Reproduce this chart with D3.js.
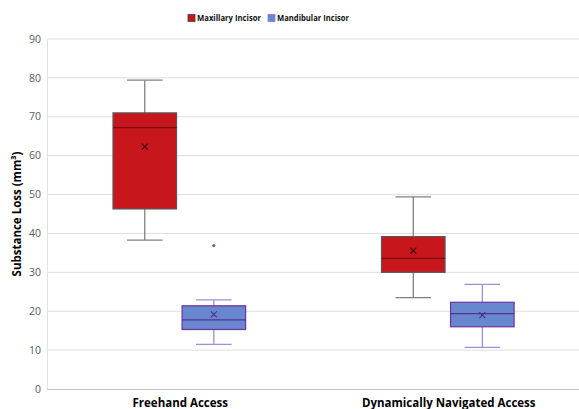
<!DOCTYPE html>
<html>
<head>
<meta charset="utf-8">
<script src="https://cdn.jsdelivr.net/npm/d3@7"></script>
<style>
  body { margin: 0; background: #fff; }
  svg { display: block; font-family: "Open Sans", "Noto Sans", sans-serif; }
</style>
</head>
<body>
<svg id="chart" width="579" height="409"></svg>
<script>
// Categories and series
var categories = ['Freehand Access', 'Dynamically Navigated Access'];
var seriesNames = ['Maxillary Incisor', 'Mandibular Incisor'];

// [min, q1, median, q3, max, mean] per category
var maxillary = [
  [38.3, 46.3, 67.2, 71.0, 79.4, 62.3],
  [23.5, 30.0, 33.6, 39.2, 49.4, 35.6]
];
var mandibular = [
  [11.5, 15.3, 17.8, 21.4, 22.9, 19.2],
  [10.7, 16.0, 19.4, 22.3, 26.9, 19.0]
];
var outliers = [[36.9], []]; // mandibular outliers per category
var yTicks = [0, 10, 20, 30, 40, 50, 60, 70, 80, 90];

var STYLE = [
  { fill: '#C8161D', stroke: '#595959', median: '#7a0d10', whisker: '#808080', mean: '#3a0a0a' },
  { fill: '#6787CE', stroke: '#7030A0', median: '#5a2f9a', whisker: '#A58BD8', mean: '#4b2a8a' }
];

var svg = d3.select('#chart');
var margin = { left: 47, right: -5, top: 39, bottom: 20 };
var W = 579, H = 409;

var y = d3.scaleLinear().domain([0, 90]).range([389, 39]);
var x = d3.scaleBand().domain(categories).range([margin.left, W - margin.right]).padding(0);
// boxes sit slightly left of the band centre, like the source
var xs = d3.scaleBand().domain(seriesNames).range([66, 198.6]).paddingInner(0.08).paddingOuter(0);

// Grid
svg.append('g').selectAll('line')
  .data(yTicks.filter(function(d) { return d > 0; }))
  .join('line')
  .attr('x1', margin.left).attr('x2', W)
  .attr('y1', function(d) { return y(d); }).attr('y2', function(d) { return y(d); })
  .attr('stroke', '#dedede').attr('stroke-width', 1);

svg.append('line')
  .attr('x1', margin.left + 0.5).attr('x2', margin.left + 0.5)
  .attr('y1', y(90)).attr('y2', y(0))
  .attr('stroke', '#e3e3e3');

// Y tick labels
svg.append('g').selectAll('text')
  .data(yTicks)
  .join('text')
  .attr('x', 41).attr('y', function(d) { return y(d); })
  .attr('dy', '0.35em').attr('text-anchor', 'end')
  .attr('font-size', 10.5).attr('fill', '#595959')
  .text(function(d) { return d; });

// X axis line
svg.append('line')
  .attr('x1', margin.left).attr('x2', W)
  .attr('y1', y(0) + 0.5).attr('y2', y(0) + 0.5)
  .attr('stroke', '#bfbfbf').attr('stroke-width', 1.2);

// Category labels
svg.append('g').selectAll('text')
  .data(categories)
  .join('text')
  .attr('x', function(d) { return x(d) + x.bandwidth() / 2 - 1; })
  .attr('y', 407)
  .attr('text-anchor', 'middle')
  .attr('font-size', 11.5).attr('font-weight', 'bold').attr('fill', '#000')
  .text(function(d) { return d; });

// Y axis title
svg.append('text')
  .attr('transform', 'translate(21,' + ((y(0) + y(90)) / 2) + ') rotate(-90)')
  .attr('text-anchor', 'middle')
  .attr('font-size', 11.5).attr('font-weight', 'bold')
  .text('Substance Loss (mm³)');

// Boxes
var series = [maxillary, mandibular];
series.forEach(function(data, si) {
  var st = STYLE[si];
  var bw = xs.bandwidth();
  var g = svg.append('g');
  data.forEach(function(v, ci) {
    var x0 = x(categories[ci]) + xs(seriesNames[si]);
    var cx = x0 + bw / 2;
    var cap = bw * 0.28;
    // whiskers
    g.append('line').attr('x1', cx).attr('x2', cx).attr('y1', y(v[4])).attr('y2', y(v[3]))
      .attr('stroke', st.whisker).attr('stroke-width', 1.3);
    g.append('line').attr('x1', cx).attr('x2', cx).attr('y1', y(v[1])).attr('y2', y(v[0]))
      .attr('stroke', st.whisker).attr('stroke-width', 1.3);
    [v[0], v[4]].forEach(function(w) {
      g.append('line').attr('x1', cx - cap).attr('x2', cx + cap).attr('y1', y(w)).attr('y2', y(w))
        .attr('stroke', st.whisker).attr('stroke-width', 1.3);
    });
    // box
    g.append('rect')
      .attr('x', x0).attr('y', y(v[3]))
      .attr('width', bw).attr('height', y(v[1]) - y(v[3]))
      .attr('fill', st.fill).attr('stroke', st.stroke).attr('stroke-width', 1.2);
    // median
    g.append('line').attr('x1', x0).attr('x2', x0 + bw).attr('y1', y(v[2])).attr('y2', y(v[2]))
      .attr('stroke', st.median).attr('stroke-width', 1.3);
    // mean marker
    var m = 3;
    g.append('path')
      .attr('d', 'M' + (cx - m) + ',' + (y(v[5]) - m) + 'L' + (cx + m) + ',' + (y(v[5]) + m) +
                 'M' + (cx - m) + ',' + (y(v[5]) + m) + 'L' + (cx + m) + ',' + (y(v[5]) - m))
      .attr('stroke', st.mean).attr('stroke-width', 1.1);
    if (si === 1) {
      outliers[ci].forEach(function(o) {
        g.append('circle').attr('cx', cx).attr('cy', y(o)).attr('r', 1.6).attr('fill', '#6a4fc0');
      });
    }
  });
});

// Legend
var legend = svg.append('g').attr('transform', 'translate(188,18)');
var lx = [0, 80];
seriesNames.forEach(function(name, i) {
  var item = legend.append('g').attr('transform', 'translate(' + lx[i] + ',0)');
  item.append('rect').attr('x', 0).attr('y', -3.5).attr('width', 7).attr('height', 7)
    .attr('fill', STYLE[i].fill).attr('stroke', i === 0 ? '#404040' : '#7d7de0').attr('stroke-width', 0.8);
  item.append('text').attr('x', 9).attr('y', 0).attr('dy', '0.35em')
    .attr('font-size', 9).attr('font-weight', 'bold').attr('fill', '#111')
    .attr('textLength', i === 0 ? 64 : 72).attr('lengthAdjust', 'spacingAndGlyphs')
    .text(name);
});
</script>
</body>
</html>
